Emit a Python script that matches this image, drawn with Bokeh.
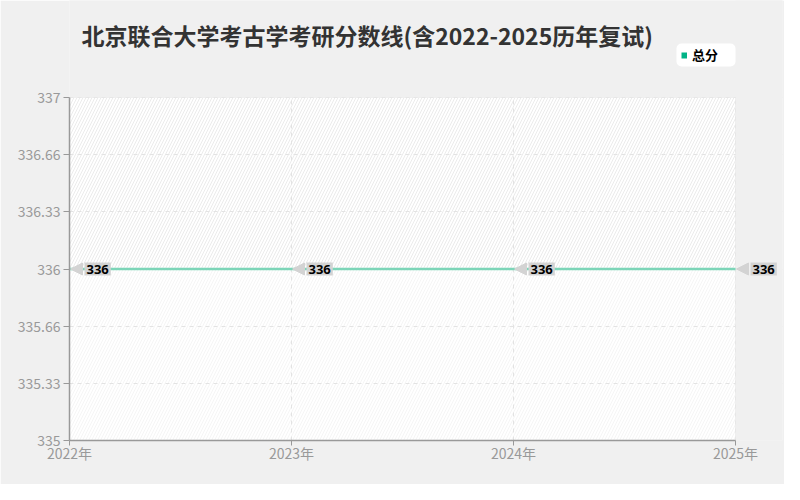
from bokeh.plotting import figure
from bokeh.models import (Range1d, FixedTicker, BoxAnnotation, Label, Legend, LegendItem,
                          Arrow, NormalHead, ColumnDataSource)
from bokeh.embed import file_html
from bokeh.resources import INLINE

# ---- data ----
title_text = "北京联合大学考古学考研分数线(含2022-2025历年复试)"
series_name = "总分"
years = [2022, 2023, 2024, 2025]
scores = [336, 336, 336, 336]
x_tick_labels = ["2022年", "2023年", "2024年", "2025年"]
y_ticks = [335, 335.333, 335.667, 336, 336.333, 336.667, 337]
y_tick_labels = ["335", "335.33", "335.66", "336", "336.33", "336.66", "337"]

# ---- layout constants (pixels) ----
FIG_W, FIG_H = 784, 484
PLOT_L, PLOT_R, PLOT_T, PLOT_B = 69, 735, 97, 440   # visible plotting area
FRAME_R = 782                                       # frame extends right so labels are not clipped
LEG_L, LEG_R, LEG_T, LEG_B = 676, 735, 43, 66        # legend box

CJK = "Noto Sans CJK SC"
LINE_COLOR = "#7dd5b8"
MARK_COLOR = "#00b386"
BG = "#f0f0f0"
LABEL_BG = "#d3d3d3"

x_px = (PLOT_R - PLOT_L) / (years[-1] - years[0])
y_px = (PLOT_B - PLOT_T) / (y_ticks[-1] - y_ticks[0])
x_end = years[-1] + (FRAME_R - PLOT_R) / x_px
y_end = y_ticks[-1] + PLOT_T / y_px

p = figure(width=FIG_W, height=FIG_H, output_backend="svg", toolbar_location=None, title=None,
           x_range=Range1d(years[0], x_end), y_range=Range1d(y_ticks[0], y_end),
           min_border_left=PLOT_L, min_border_right=FIG_W - FRAME_R,
           min_border_top=0, min_border_bottom=FIG_H - PLOT_B)

p.border_fill_color = BG
p.background_fill_color = BG
p.outline_line_color = None

# white plotting area with hatched bands
mid = scores[0]
p.add_layout(BoxAnnotation(left=years[0], right=years[-1], bottom=y_ticks[0], top=y_ticks[-1],
                           fill_color="#ffffff", fill_alpha=1, line_color=None, level="image"))
p.add_layout(BoxAnnotation(left=years[0], right=years[-1], bottom=mid, top=y_ticks[-1],
                           fill_alpha=0, line_color=None, level="image",
                           hatch_pattern="/", hatch_color="#ebebeb", hatch_scale=6, hatch_weight=1))
p.add_layout(BoxAnnotation(left=years[0], right=years[-1], bottom=y_ticks[0], top=mid,
                           fill_alpha=0, line_color=None, level="image",
                           hatch_pattern="/", hatch_color="#f5f5f5", hatch_scale=6, hatch_weight=1))

# axes
p.xaxis.ticker = FixedTicker(ticks=years)
p.xaxis.major_label_overrides = {y: l for y, l in zip(years, x_tick_labels)}
p.xaxis.bounds = (years[0], years[-1])
p.yaxis.ticker = FixedTicker(ticks=y_ticks)
p.yaxis.major_label_overrides = {t: l for t, l in zip(y_ticks, y_tick_labels)}
p.yaxis.bounds = (y_ticks[0], y_ticks[-1])
for ax in (p.xaxis, p.yaxis):
    ax.axis_line_color = "#999999"
    ax.axis_line_width = 1.5
    ax.major_tick_line_color = "#999999"
    ax.major_tick_in = 0
    ax.minor_tick_line_color = None
    ax.major_label_text_color = "#999999"
    ax.major_label_text_font = CJK
    ax.major_label_text_font_size = "14px"
p.xaxis.major_tick_out = 5
p.yaxis.major_tick_out = 6
p.xaxis.major_label_standoff = -3
p.yaxis.major_label_standoff = 3

for g in (p.xgrid, p.ygrid):
    g.grid_line_color = "#e3e3e3"
    g.grid_line_dash = "4 4"
    g.grid_line_width = 1

# cover grid lines outside the plotting area
p.add_layout(BoxAnnotation(left=years[-1], fill_color=BG, fill_alpha=1, line_color=None, level="underlay"))
p.add_layout(BoxAnnotation(bottom=y_ticks[-1], fill_color=BG, fill_alpha=1, line_color=None, level="underlay"))
p.add_layout(BoxAnnotation(left=years[0], right=years[-1], bottom=y_ticks[0], top=y_ticks[-1],
                           fill_alpha=0, line_color="#e6e6e6", line_width=1, level="underlay"))

src = ColumnDataSource(dict(x=years, y=scores))
ln = p.line("x", "y", source=src, line_color=LINE_COLOR, line_width=2.5)
# legend swatch: a short thick stroke (hidden on the plot) renders as a small square in the legend
sw = p.line("x", "y", source=src, line_color=MARK_COLOR, line_width=6, line_cap="butt", visible=False)

# title (drawn as a label inside the extended frame)
p.add_layout(Label(x=81 - PLOT_L, y=PLOT_B - 34, x_units="screen", y_units="screen",
                   text=title_text, text_baseline="middle", text_align="left",
                   text_font=CJK, text_font_size="23px", text_font_style="bold",
                   text_color="#333333"))

# legend: white rounded box behind a transparent legend
leg_box = BoxAnnotation(left=LEG_L - PLOT_L, right=LEG_R - PLOT_L,
                        top=PLOT_B - LEG_T, bottom=PLOT_B - LEG_B,
                        left_units="screen", right_units="screen",
                        top_units="screen", bottom_units="screen",
                        fill_color="#ffffff", fill_alpha=1, line_color=None, level="annotation")
if "border_radius" in BoxAnnotation.properties():
    leg_box.border_radius = 5
p.add_layout(leg_box)

legend = Legend(items=[LegendItem(label=series_name, renderers=[sw])],
                location=(LEG_L + 5 - PLOT_L, PLOT_B - (LEG_B - 2)), orientation="vertical",
                background_fill_alpha=0, border_line_color=None,
                padding=5, margin=0, spacing=0,
                glyph_width=6, glyph_height=12, label_standoff=5,
                label_text_font=CJK, label_text_font_size="13px",
                label_text_font_style="bold", label_text_color="#000000",
                inactive_fill_alpha=0)
p.add_layout(legend, "center")

# data labels (callouts)
for x, y in zip(years, scores):
    p.add_layout(Arrow(x_start=x + 13 / x_px, y_start=y, x_end=x + 1 / x_px, y_end=y,
                       line_alpha=0, line_width=0,
                       end=NormalHead(size=12, fill_color=LABEL_BG, line_color=LABEL_BG)))
    p.add_layout(Label(x=x, y=y, text=str(y), x_offset=15, text_baseline="middle", text_align="left",
                       text_font="Noto Sans", text_font_size="13px", text_font_style="bold",
                       text_color="#000000", background_fill_color=LABEL_BG, padding=2))

open("out.html", "w").write(file_html(p, INLINE))
